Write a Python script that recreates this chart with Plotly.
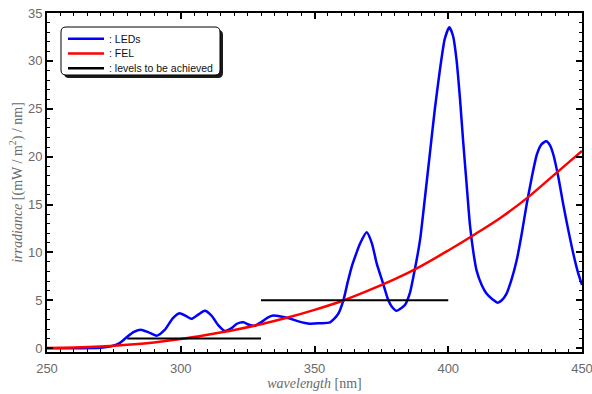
import plotly.graph_objects as go

# LED irradiance spectrum (nm, mW/m^2/nm)
led_wl = [250, 260, 270, 274, 277, 280, 282.5, 285, 288, 291, 294, 297, 299.5, 302, 304, 306.5, 309,
          311.5, 314, 316.5, 319, 321, 323.4, 325.5, 327.4, 330, 332.5, 334.6, 337.5, 340.8, 344,
          348.3, 352, 355.8, 357.5, 358.9, 360.8, 362.5, 363.9, 365.5, 367, 369.5, 371.4, 373.3,
          375.7, 377.6, 379, 380.7, 382.5, 383.8, 385.7, 387, 389.4, 391.2, 393.2, 395, 396.9,
          398.7, 400.4, 401.8, 403.1, 404.4, 405.6, 406.9, 408.1, 409.4, 410.6, 412.5, 414.3,
          416.5, 418.5, 420, 421.8, 423.7, 425.6, 427.5, 429.3, 431.2, 433.1, 434.9, 436.6, 438,
          439.3, 441.2, 443, 444.9, 446.8, 448.4, 450]
led_val = [0, 0, 0.05, 0.2, 0.5, 1.2, 1.7, 1.93, 1.65, 1.3, 1.9, 3.1, 3.65, 3.35, 3.06, 3.5, 3.9,
           3.4, 2.4, 1.8, 2.1, 2.55, 2.7, 2.45, 2.33, 2.7, 3.2, 3.4, 3.3, 3.1, 2.8,
           2.55, 2.6, 2.7, 3.1, 3.6, 5.0, 7.0, 8.5, 9.8, 10.9, 12.1, 11.0, 8.8,
           6.7, 5.0, 4.3, 3.9, 4.2, 4.5, 5.8, 7.5, 11.2, 15.5, 20.5, 25, 29.1,
           32.3, 33.5, 32.6, 30.1, 26, 21.5, 17, 12.9, 10, 8.1, 6.6, 5.7,
           5.1, 4.75, 5.0, 5.7, 7.2, 9.2, 12, 15.0, 17.8, 20.2, 21.3, 21.6, 21.2,
           20.2, 17.8, 15.0, 12.3, 9.8, 8.0, 6.6]

# FEL lamp spectrum
fel_wl = [250, 260, 270, 280, 290, 300, 310, 320, 330, 340, 350, 360, 370, 380, 390, 400,
          410, 420, 430, 440, 450]
fel_val = [0.03, 0.08, 0.18, 0.35, 0.6, 0.95, 1.4, 1.9, 2.5, 3.2, 4.0, 4.9, 6.0, 7.2, 8.6, 10.2,
           11.9, 13.7, 15.8, 18.2, 20.6]

# Levels to be achieved (None separates the two segments)
lvl_wl = [280, 330, None, 330, 400]
lvl_val = [1, 1, None, 5, 5]

legend_labels = [": LEDs", ": FEL", ": levels to be achieved"]
legend_colors = ["#0000ff", "#ff0000", "#000000"]

fig = go.Figure()
fig.add_trace(go.Scatter(x=led_wl, y=led_val, mode="lines", name=legend_labels[0], showlegend=False,
                         line=dict(color=legend_colors[0], width=2.5, shape="spline", smoothing=0.6)))
fig.add_trace(go.Scatter(x=fel_wl, y=fel_val, mode="lines", name=legend_labels[1], showlegend=False,
                         line=dict(color=legend_colors[1], width=2.5, shape="spline")))
fig.add_trace(go.Scatter(x=lvl_wl, y=lvl_val, mode="lines", name=legend_labels[2], showlegend=False,
                         line=dict(color=legend_colors[2], width=2), connectgaps=False))

L, R, T, B = 47, 10, 13, 42
W, H = 592, 394
pw, ph = W - L - R, H - T - B

def px(x):
    return (x - L) / pw

def py(y):
    return (H - B - y) / ph

def rrect(x0, y0, x1, y1, r):
    pts = [
        f"M {px(x0 + r)} {py(y0)}",
        f"L {px(x1 - r)} {py(y0)}",
        f"Q {px(x1)} {py(y0)} {px(x1)} {py(y0 + r)}",
        f"L {px(x1)} {py(y1 - r)}",
        f"Q {px(x1)} {py(y1)} {px(x1 - r)} {py(y1)}",
        f"L {px(x0 + r)} {py(y1)}",
        f"Q {px(x0)} {py(y1)} {px(x0)} {py(y1 - r)}",
        f"L {px(x0)} {py(y0 + r)}",
        f"Q {px(x0)} {py(y0)} {px(x0 + r)} {py(y0)}",
        "Z",
    ]
    return " ".join(pts)

shapes = [
    dict(type="path", xref="paper", yref="paper", path=rrect(64, 30, 223, 78, 5),
         fillcolor="#1a1a1a", line=dict(width=0), layer="above"),
    dict(type="path", xref="paper", yref="paper", path=rrect(61, 27, 220, 75, 5),
         fillcolor="white", line=dict(color="black", width=1), layer="above"),
]
annotations = []
row_y = [38.7, 53.5, 68.2]
for lab, col, yy in zip(legend_labels, legend_colors, row_y):
    shapes.append(dict(type="line", xref="paper", yref="paper",
                       x0=px(68), x1=px(104), y0=py(yy), y1=py(yy),
                       line=dict(color=col, width=2.5), layer="above"))
    annotations.append(dict(xref="paper", yref="paper", x=px(107), y=py(yy),
                            xanchor="left", yanchor="middle", showarrow=False, text=lab,
                            font=dict(family="Liberation Sans, Arial", size=10.5, color="#111111")))

tickfont = dict(family="Liberation Sans, Arial", size=13, color="#6a6a6a")
titlefont = dict(family="Liberation Serif, Times New Roman", size=14, color="#6a6a6a")

fig.update_layout(
    width=W, height=H,
    margin=dict(l=L, r=R, t=T, b=B, autoexpand=False),
    paper_bgcolor="white", plot_bgcolor="white",
    showlegend=False,
    shapes=shapes,
    annotations=annotations,
    xaxis=dict(range=[250, 450], tickvals=[250, 300, 350, 400, 450], automargin=False,
               ticklabeloverflow="allow", ticklabelstandoff=3,
               ticks="inside", ticklen=6, tickwidth=1.5, tickcolor="black",
               minor=dict(dtick=5, ticks="inside", ticklen=3, tickcolor="black", tickwidth=1),
               showline=True, linecolor="black", linewidth=2, mirror="ticks",
               showgrid=False, zeroline=False, tickfont=tickfont,
               title=dict(text="<i>wavelength</i> [nm]", font=titlefont, standoff=0)),
    yaxis=dict(range=[-0.4, 35], tickvals=[0, 5, 10, 15, 20, 25, 30, 35], automargin=False,
               ticklabeloverflow="allow",
               ticks="inside", ticklen=6, tickwidth=1.5, tickcolor="black",
               minor=dict(dtick=1, tick0=0, ticks="inside", ticklen=3, tickcolor="black", tickwidth=1),
               showline=True, linecolor="black", linewidth=2, mirror="ticks",
               showgrid=False, zeroline=False, tickfont=tickfont,
               title=dict(text="<i>irradiance</i> [(mW / m<sup>2</sup>) / nm]", font=titlefont, standoff=2)),
)

fig.write_html("out.html")
